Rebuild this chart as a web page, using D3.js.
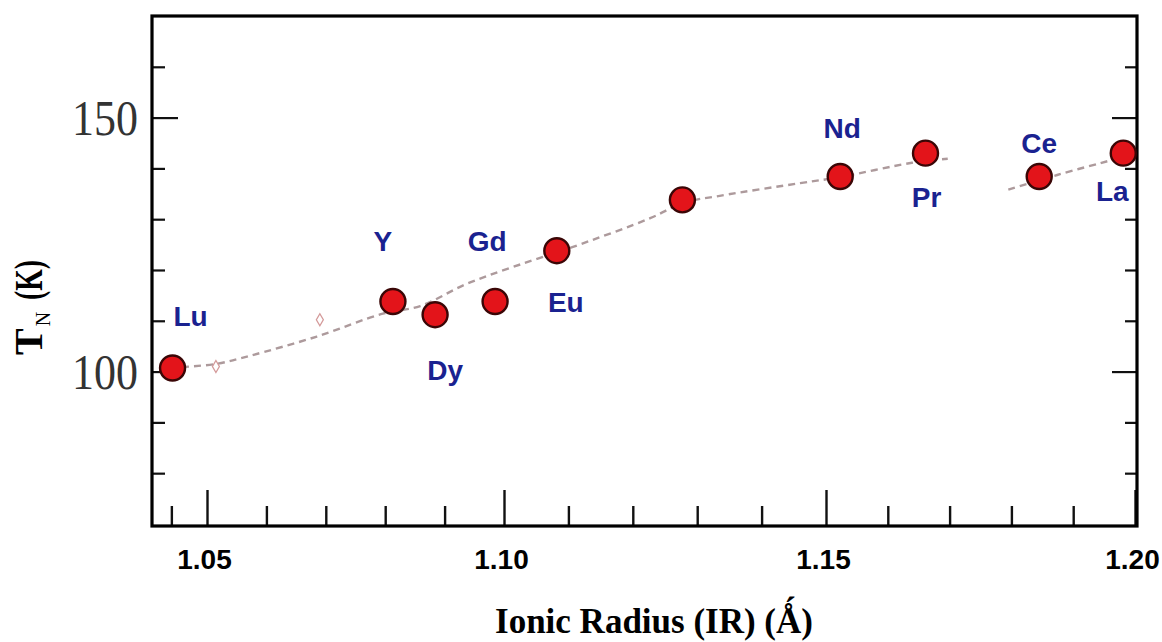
<!DOCTYPE html>
<html>
<head>
<meta charset="utf-8">
<script src="https://cdn.jsdelivr.net/npm/d3@7"></script>
<style>
  html, body { margin: 0; padding: 0; background: #fff; }
  svg { display: block; }
</style>
</head>
<body>
<svg id="chart" width="1162" height="642"></svg>
<script>
// Néel temperature versus ionic radius of the rare-earth site
const elements    = ["Lu", "Y", "Dy", "Gd", "Eu", "", "Nd", "Pr", "Ce", "La"];
const ionicRadius = [1.0442, 1.0813, 1.0884, 1.0985, 1.1082, 1.1277, 1.1523, 1.1661, 1.1845, 1.1981];
const neelTemp    = [100.7, 113.8, 111.2, 113.8, 123.8, 133.8, 138.4, 143.0, 138.4, 143.0];

// small open reference markers
const refRadius = [1.0515, 1.0690];
const refTemp   = [101.0, 110.2];

// dashed guide curve, in two pieces
const trendRadiusA = [1.0458, 1.0515, 1.0572, 1.0685, 1.0796, 1.0859, 1.0938, 1.1056, 1.1106, 1.1227, 1.1278, 1.1335, 1.1460, 1.1523, 1.1639, 1.1697];
const trendTempA   = [100.9, 101.5, 103.1, 106.9, 111.4, 112.9, 117.3, 122.4, 124.5, 130.2, 133.2, 134.6, 137.1, 138.3, 141.1, 141.9];
const trendRadiusB = [1.1795, 1.1874, 1.1964, 1.1982];
const trendTempB   = [135.8, 138.7, 141.7, 142.3];

// axis ticks
const xMajorTicks = [1.05, 1.10, 1.15, 1.20];
const xMinorTicks = [1.044, 1.06, 1.07, 1.08, 1.09, 1.11, 1.12, 1.13, 1.14, 1.16, 1.17, 1.18, 1.19];
const yMajorTicks = [100, 150];
const yMinorTicks = [80, 90, 110, 120, 130, 140, 160];

// label placement relative to each marker (pixels)
const labelDx = [18, -10, 10, -8, 9, 0, 2, 1, 0, -11];
const labelDy = [-42, -50, 65, -50, 61, 0, -39, 54, -24, 48];

const frame = { left: 152, right: 1137, top: 16, bottom: 526 };

const svg = d3.select("#chart");

const x = d3.scaleLinear()
  .domain([1.05, 1.10, 1.15, 1.20])
  .range([207, 504, 826, 1135]);

const y = d3.scaleLinear()
  .domain([69.6, 170])
  .range([frame.bottom, frame.top]);

// ---- dashed guide curve
const line = d3.line()
  .x(d => x(d[0]))
  .y(d => y(d[1]))
  .curve(d3.curveCatmullRom.alpha(0.5));

[[trendRadiusA, trendTempA], [trendRadiusB, trendTempB]].forEach(([rs, ts]) => {
  svg.append("path")
    .datum(rs.map((r, i) => [r, ts[i]]))
    .attr("d", line)
    .attr("fill", "none")
    .attr("stroke", "#ad9a9c")
    .attr("stroke-width", 2.4)
    .attr("stroke-dasharray", "7,5");
});

// ---- open diamonds
svg.append("g").selectAll("path")
  .data(refRadius.map((r, i) => [r, refTemp[i]]))
  .join("path")
  .attr("transform", d => `translate(${x(d[0])},${y(d[1])})`)
  .attr("d", d3.symbol(d3.symbolDiamond, 42))
  .attr("fill", "none")
  .attr("stroke", "#d49a9a")
  .attr("stroke-width", 1.3);

// ---- ticks (all pointing inward)
function styleTicks(g, width) {
  g.select(".domain").remove();
  g.selectAll(".tick line").attr("stroke", "#111").attr("stroke-width", width);
  g.selectAll(".tick text").remove();
}

svg.append("g")
  .attr("transform", `translate(0,${frame.bottom})`)
  .call(d3.axisBottom(x).tickValues(xMinorTicks).tickSize(-20).tickFormat(""))
  .call(g => styleTicks(g, 2.4));

const xMajor = svg.append("g")
  .attr("transform", `translate(0,${frame.bottom})`)
  .call(d3.axisBottom(x).tickValues(xMajorTicks).tickSize(-36).tickFormat(d3.format(".2f")));
xMajor.select(".domain").remove();
xMajor.selectAll(".tick line").attr("stroke", "#111").attr("stroke-width", 2.4);
xMajor.selectAll(".tick text")
  .attr("y", 43)
  .attr("dy", null)
  .attr("dx", -3)
  .attr("fill", "#000")
  .style("font-family", "'Liberation Sans', Arial, sans-serif")
  .style("font-weight", "bold")
  .style("font-size", "28px");

svg.append("g")
  .attr("transform", `translate(${frame.left},0)`)
  .call(d3.axisLeft(y).tickValues(yMinorTicks).tickSize(-13))
  .call(g => styleTicks(g, 2.2));
svg.append("g")
  .attr("transform", `translate(${frame.left},0)`)
  .call(d3.axisLeft(y).tickValues(yMajorTicks).tickSize(-26))
  .call(g => styleTicks(g, 2.2));

svg.append("g")
  .attr("transform", `translate(${frame.right},0)`)
  .call(d3.axisRight(y).tickValues(yMinorTicks).tickSize(-12))
  .call(g => styleTicks(g, 2.2));
svg.append("g")
  .attr("transform", `translate(${frame.right},0)`)
  .call(d3.axisRight(y).tickValues(yMajorTicks).tickSize(-25))
  .call(g => styleTicks(g, 2.2));

// y tick labels (serif, slightly tall)
svg.append("g").selectAll("g")
  .data(yMajorTicks)
  .join("g")
  .attr("transform", d => `translate(${frame.left - 14},${y(d)}) scale(1,1.15)`)
  .append("text")
  .attr("text-anchor", "end")
  .attr("dy", "0.34em")
  .attr("fill", "#333")
  .style("font-family", "'Liberation Serif', 'Times New Roman', serif")
  .style("font-size", "44px")
  .text(d => d);

// ---- frame
svg.append("rect")
  .attr("x", frame.left)
  .attr("y", frame.top)
  .attr("width", frame.right - frame.left)
  .attr("height", frame.bottom - frame.top)
  .attr("fill", "none")
  .attr("stroke", "#000")
  .attr("stroke-width", 3.2);

// ---- data markers
const pts = ionicRadius.map((r, i) => ({ r, t: neelTemp[i], name: elements[i], i }));

svg.append("g").selectAll("circle")
  .data(pts)
  .join("circle")
  .attr("cx", d => x(d.r))
  .attr("cy", d => y(d.t))
  .attr("r", 12.5)
  .attr("fill", "#e3141a")
  .attr("stroke", "#3a0606")
  .attr("stroke-width", 2.4);

svg.append("g").selectAll("text")
  .data(pts.filter(d => d.name))
  .join("text")
  .attr("x", d => x(d.r) + labelDx[d.i])
  .attr("y", d => y(d.t) + labelDy[d.i])
  .attr("text-anchor", "middle")
  .attr("fill", "#1a2290")
  .style("font-family", "'Liberation Sans', Arial, sans-serif")
  .style("font-weight", "bold")
  .style("font-size", "28px")
  .text(d => d.name);

// ---- axis titles
svg.append("text")
  .attr("x", 654)
  .attr("y", 633)
  .attr("text-anchor", "middle")
  .attr("fill", "#000")
  .style("font-family", "'Liberation Serif', 'Times New Roman', serif")
  .style("font-weight", "bold")
  .style("font-size", "35px")
  .text("Ionic Radius (IR) (Ǻ)");

const yTitle = svg.append("text")
  .attr("transform", "translate(42,355) rotate(-90)")
  .attr("fill", "#000")
  .style("font-family", "'Liberation Serif', 'Times New Roman', serif")
  .style("font-weight", "bold")
  .style("font-size", "40px");
yTitle.append("tspan").text("T");
yTitle.append("tspan").attr("dx", 2).attr("dy", 8).style("font-size", "20px").style("font-weight", "normal").text("N");
yTitle.append("tspan")
  .attr("x", 55).attr("dy", -8)
  .attr("textLength", 40).attr("lengthAdjust", "spacingAndGlyphs")
  .text("(K)");
</script>
</body>
</html>
